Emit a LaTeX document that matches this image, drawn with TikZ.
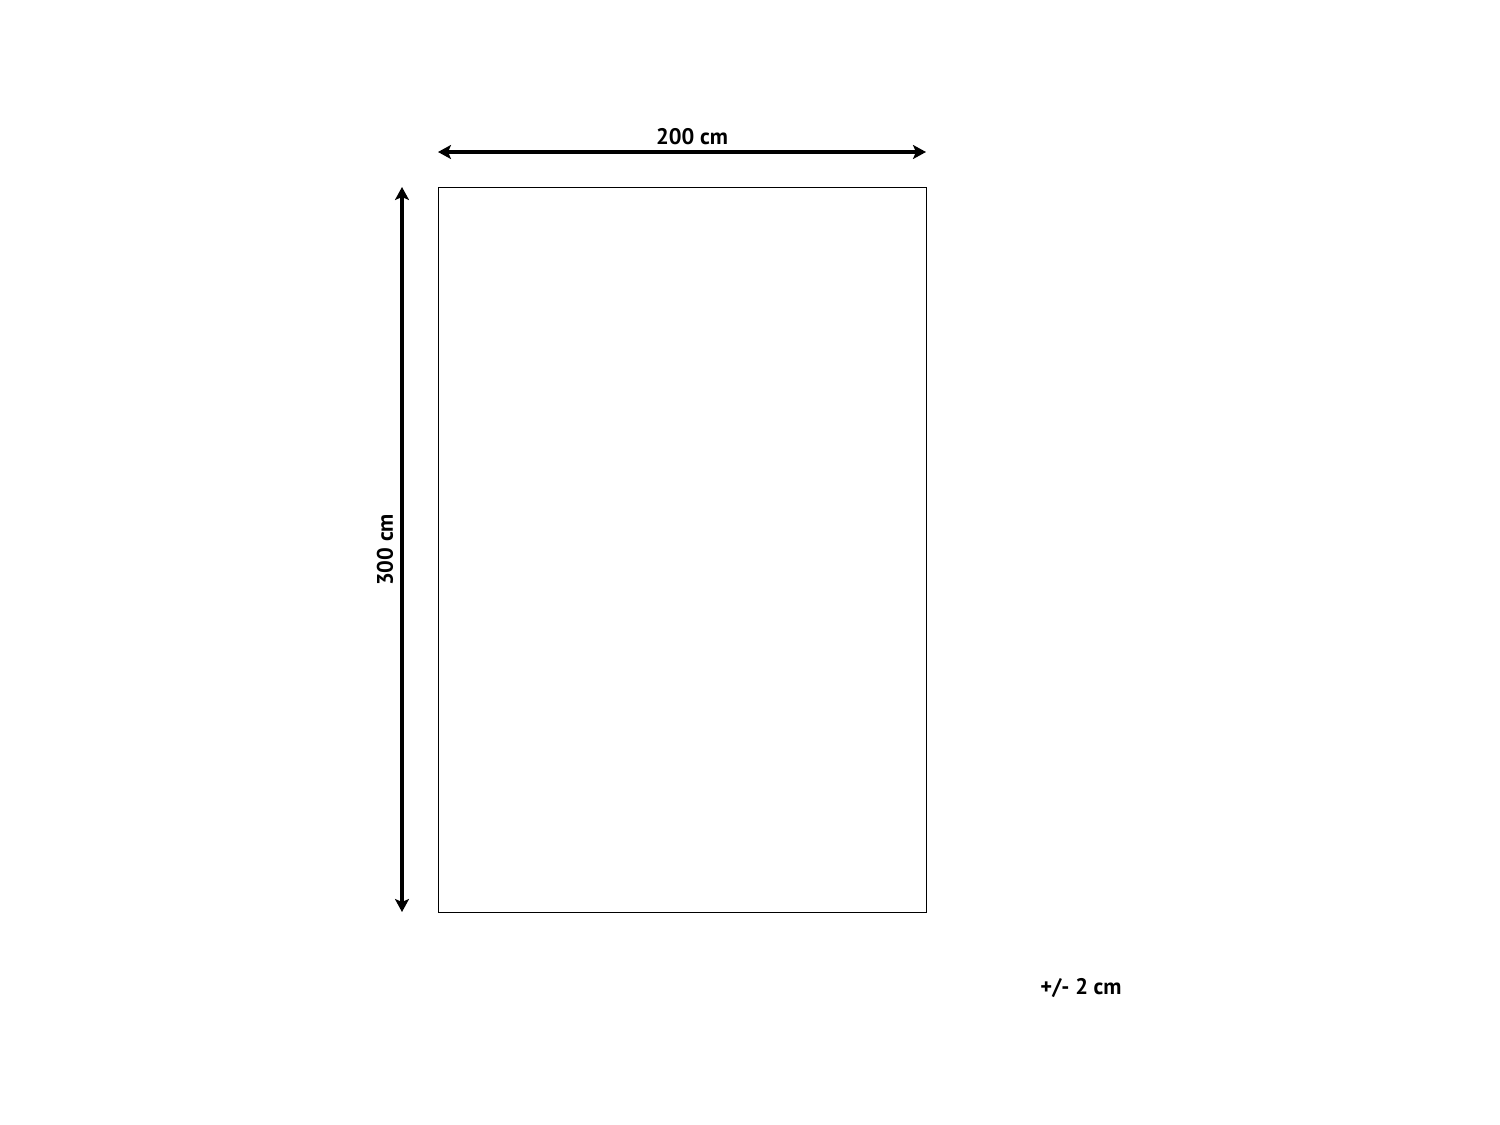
\documentclass[tikz,border=0pt]{standalone}
\usepackage{fontspec}
\setmainfont{PT Sans}
\usetikzlibrary{arrows.meta}
\begin{document}
\begin{tikzpicture}[x=1pt,y=-1pt,
  dimline/.style={line width=3.5pt,{Stealth[length=13pt,width=14pt,inset=3pt]}-{Stealth[length=13pt,width=14pt,inset=3pt]}},
  lbl/.style={font=\fontsize{22.5}{26}\selectfont\bfseries,inner sep=0pt}]
\useasboundingbox (0,0) rectangle (1500,1125);
\node[draw,line width=1.4pt,minimum width=488pt,minimum height=725pt,inner sep=0pt,anchor=north west] (rug) at (438,187) {};
\coordinate (hl) at (438,152);
\coordinate (hr) at (926,152);
\coordinate (vt) at (402,187);
\coordinate (vb) at (402,912);
\draw[dimline] (hl) -- (hr);
\draw[dimline] (vt) -- (vb);
\node[lbl] (w) at (692,137) {200 cm};
\node[lbl,rotate=90] (h) at (385,550) {300 cm};
\node[lbl] (tol) at (1081,988) {+/- 2 cm};
\end{tikzpicture}
\end{document}
